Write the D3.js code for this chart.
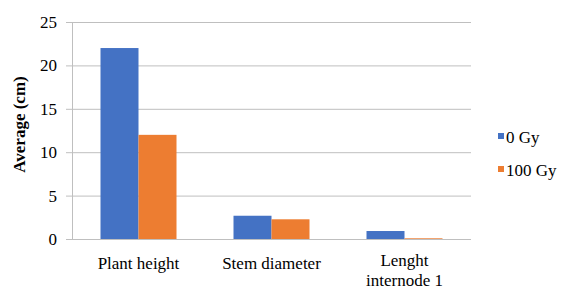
<!DOCTYPE html>
<html lang="en">
<head>
<meta charset="UTF-8">
<title>Average (cm)</title>
<script src="https://cdn.jsdelivr.net/npm/d3@7"></script>
<style>
    body { margin: 0; background: #fff; }
    text { font-family: "Liberation Serif", "Times New Roman", Tinos, "Nimbus Roman", "Noto Serif", "DejaVu Serif", FreeSerif, serif; font-size: 17px; fill: #000; }
    .axlabel { font-weight: bold; }
</style>
</head>
<body>
<div id="my_dataviz"></div>
<script>
// chart data
var categories = [["Plant height"], ["Stem diameter"], ["Lenght", "internode 1"]];
var seriesNames = ["0 Gy", "100 Gy"];
var gy0 = [22.0, 2.68, 0.92];
var gy100 = [12.0, 2.27, 0.08];
var yTicks = [0, 5, 10, 15, 20, 25];
var colors = ["#4472C4", "#ED7D31"];

var W = 579, H = 291;
var margin = {top: 22, right: 108, bottom: 52, left: 72};
var width = W - margin.left - margin.right,
    height = H - margin.top - margin.bottom;

var svg = d3.select("#my_dataviz")
    .append("svg")
    .attr("width", W)
    .attr("height", H)
    .append("g")
    .attr("transform", "translate(" + margin.left + "," + margin.top + ")");

var x = d3.scaleBand()
    .domain(d3.range(categories.length))
    .range([0, width])
    .padding(0);

var y = d3.scaleLinear()
    .domain([0, 25])
    .range([height, 0]);

// gridlines
svg.append("g")
    .selectAll("line")
    .data(yTicks)
    .enter()
    .append("line")
    .attr("x1", -6)
    .attr("x2", width)
    .attr("y1", d => y(d) + 0.5)
    .attr("y2", d => y(d) + 0.5)
    .style("stroke", "#bfbfbf")
    .style("stroke-width", 1);

// left axis line
svg.append("line")
    .attr("x1", 0.5).attr("x2", 0.5)
    .attr("y1", 0).attr("y2", height)
    .style("stroke", "#bfbfbf");

// y tick labels
svg.append("g")
    .selectAll("text")
    .data(yTicks)
    .enter()
    .append("text")
    .attr("x", -15)
    .attr("y", d => y(d) + 6)
    .attr("text-anchor", "end")
    .text(d => d);

// bars
var inner = d3.scaleBand()
    .domain(seriesNames)
    .range([0, x.bandwidth()])
    .paddingInner(0)
    .paddingOuter(0.75);

var seriesVals = [gy0, gy100];
seriesNames.forEach(function(s, si) {
    svg.append("g")
        .selectAll("rect")
        .data(seriesVals[si])
        .enter()
        .append("rect")
        .attr("x", (d, i) => x(i) + inner(s))
        .attr("width", inner.bandwidth())
        .attr("y", d => y(d))
        .attr("height", d => height - y(d))
        .style("fill", colors[si]);
});

// x category labels
var xl = svg.append("g")
    .selectAll("text")
    .data(categories)
    .enter()
    .append("text")
    .attr("text-anchor", "middle")
    .attr("x", (d, i) => x(i) + x.bandwidth() / 2)
    .attr("y", d => d.length > 1 ? height + 27 : height + 30);
xl.selectAll("tspan")
    .data(d => d)
    .enter()
    .append("tspan")
    .attr("x", function() { return d3.select(this.parentNode).attr("x"); })
    .attr("dy", (d, i) => i === 0 ? 0 : 20)
    .text(d => d);

// y axis title
svg.append("text")
    .attr("class", "axlabel")
    .attr("transform", "rotate(-90)")
    .attr("x", -height / 2 + 6)
    .attr("y", -47)
    .attr("text-anchor", "middle")
    .text("Average (cm)");

// legend
var legend = svg.append("g")
    .attr("transform", "translate(" + (width + 27) + "," + 111 + ")");
legend.selectAll("rect")
    .data(seriesNames)
    .enter()
    .append("rect")
    .attr("x", 0)
    .attr("y", (d, i) => i * 33)
    .attr("width", 6)
    .attr("height", 6)
    .style("fill", (d, i) => colors[i]);
legend.selectAll("text")
    .data(seriesNames)
    .enter()
    .append("text")
    .attr("x", 8)
    .attr("y", (d, i) => i * 33 + 10)
    .text(d => d);
</script>
</body>
</html>
